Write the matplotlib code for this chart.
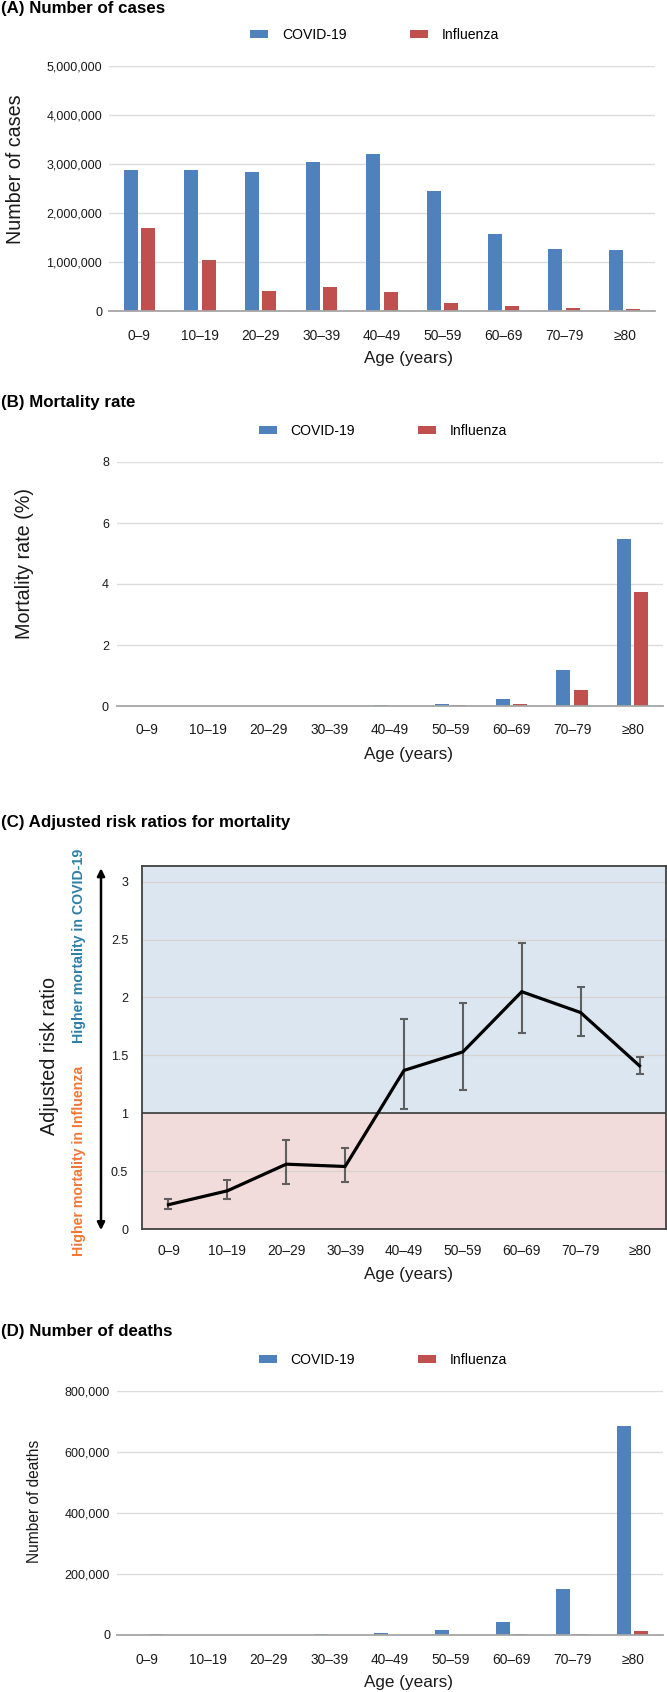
import matplotlib
matplotlib.use("Agg")
import matplotlib.pyplot as plt
from matplotlib.ticker import StrMethodFormatter
import numpy as np

plt.rcParams['font.family'] = ['Liberation Sans', 'DejaVu Sans']

ages = ['0–9', '10–19', '20–29', '30–39', '40–49', '50–59', '60–69', '70–79', '≥80']

cases_covid = [2870000, 2880000, 2840000, 3050000, 3200000, 2440000, 1570000, 1260000, 1250000]
cases_flu = [1700000, 1045000, 410000, 480000, 390000, 170000, 110000, 68000, 47000]

mort_covid = [0.003, 0.002, 0.005, 0.01, 0.02, 0.06, 0.24, 1.18, 5.48]
mort_flu = [0.003, 0.002, 0.004, 0.006, 0.008, 0.03, 0.07, 0.53, 3.75]

rr = [0.21, 0.33, 0.56, 0.54, 1.37, 1.53, 2.05, 1.87, 1.41]
rr_lo = [0.17, 0.26, 0.39, 0.41, 1.04, 1.20, 1.69, 1.67, 1.34]
rr_hi = [0.26, 0.42, 0.77, 0.70, 1.81, 1.95, 2.47, 2.09, 1.49]

deaths_covid = [200, 100, 500, 1000, 5600, 14400, 41600, 151000, 685000]
deaths_flu = [1800, 200, 300, 300, 400, 600, 800, 2500, 12000]

BLUE = '#4f81bd'
RED = '#c0504d'
GRID = '#dcdcdc'

W, H = 667, 1692
fig = plt.figure(figsize=(W / 100, H / 100), dpi=100)


def rect(l, r, t, b):
    return [l / W, 1 - b / H, (r - l) / W, (b - t) / H]


def fy(py):
    return 1 - py / H


x = np.arange(len(ages))


def bar_panel(pos, cv, fl, ylim, yticks, fmt, ylabel, ylab_xy, ylab_size,
              xlab_xy, xpad, ypad, title, title_y, leg_xy):
    ax = fig.add_axes(rect(*pos))
    b1 = ax.bar(x - 0.142, cv, width=0.228, color=BLUE, label='COVID-19', zorder=3)
    b2 = ax.bar(x + 0.142, fl, width=0.228, color=RED, label='Influenza', zorder=3)
    ax.set_xlim(-0.5, len(ages) - 0.5)
    ax.set_ylim(*ylim)
    ax.set_yticks(yticks)
    ax.yaxis.set_major_formatter(StrMethodFormatter(fmt))
    ax.set_xticks(x)
    ax.set_xticklabels(ages)
    ax.grid(axis='y', color=GRID, lw=1.0, zorder=0)
    ax.set_axisbelow(True)
    for s in ['top', 'right', 'left']:
        ax.spines[s].set_visible(False)
    ax.spines['bottom'].set_color('#a6a6a6')
    ax.spines['bottom'].set_linewidth(1.3)
    ax.spines['bottom'].set_zorder(4)
    ax.tick_params(axis='x', length=0, pad=xpad, labelsize=9.9, labelcolor='#1a1a1a')
    ax.tick_params(axis='y', length=0, pad=ypad, labelsize=9.0, labelcolor='#1a1a1a')
    ax.set_ylabel(ylabel, fontsize=ylab_size, va='center', color='#1a1a1a')
    ax.yaxis.set_label_coords(*ylab_xy)
    ax.set_xlabel('Age (years)', fontsize=12.3, va='center', color='#1a1a1a')
    ax.xaxis.set_label_coords(*xlab_xy)
    fig.text(1 / W, fy(title_y), title, fontsize=12.2, fontweight='bold',
             ha='left', va='center')
    ax.legend(handles=[b1, b2], loc='center', ncol=2, frameon=False,
              bbox_to_anchor=(leg_xy[0] / W, fy(leg_xy[1])),
              bbox_transform=fig.transFigure, fontsize=10.1,
              handlelength=1.29, handleheight=0.4, handletextpad=0.98,
              columnspacing=4.5, borderpad=0, borderaxespad=0)
    return ax


# Panel A
bar_panel((109, 655, 66, 311), cases_covid, cases_flu, (0, 5000000),
          [0, 1000000, 2000000, 3000000, 4000000, 5000000], '{x:,.0f}',
          'Number of cases', (-0.172, 0.580), 14.2,
          (0.548, -0.192), 13.0, 5.0, '(A) Number of cases', 8, (374.5, 35))

# Panel B
bar_panel((117, 663, 462, 706), mort_covid, mort_flu, (0, 8),
          [0, 2, 4, 6, 8], '{x:.0f}',
          'Mortality rate (%)', (-0.1685, 0.584), 14.2,
          (0.533, -0.197), 12.3, 5.8, '(B) Mortality rate', 402, (383, 431))

# Panel D
bar_panel((117, 663, 1390.7, 1634.7), deaths_covid, deaths_flu, (0, 800000),
          [0, 200000, 400000, 600000, 800000], '{x:,.0f}',
          'Number of deaths', (-0.152, 0.546), 11.2,
          (0.533, -0.194), 13.4, 5.0, '(D) Number of deaths', 1331, (383, 1360))

# Panel C
axc = fig.add_axes(rect(142, 666, 866, 1229))
ytop = 3.136
axc.axhspan(1, ytop, color='#dce6f1', zorder=0, lw=0)
axc.axhspan(0, 1, color='#f2dcdb', zorder=0, lw=0)
axc.set_xlim(-0.45, len(ages) - 0.55)
axc.set_ylim(0, ytop)
axc.set_yticks([0, 0.5, 1, 1.5, 2, 2.5, 3])
axc.set_yticklabels(['0', '0.5', '1', '1.5', '2', '2.5', '3'])
axc.grid(axis='y', color='#d6d3d1', lw=0.9, zorder=1)
axc.axhline(1, color='#2b2b2b', lw=1.1, zorder=2)
rr_arr = np.array(rr)
yerr = np.vstack([rr_arr - np.array(rr_lo), np.array(rr_hi) - rr_arr])
axc.errorbar(x, rr, yerr=yerr, fmt='none', ecolor='#5f5f5f', elinewidth=1.5,
             capsize=3.0, capthick=1.5, zorder=3)
axc.plot(x, rr, color='black', lw=2.3, zorder=4, solid_joinstyle='miter')
axc.set_xticks(x)
axc.set_xticklabels(ages)
for s in axc.spines.values():
    s.set_color('#404040')
    s.set_linewidth(1.3)
    s.set_zorder(5)
axc.tick_params(axis='x', length=0, pad=10.8, labelsize=9.9, labelcolor='#1a1a1a')
axc.tick_params(axis='y', length=0, pad=10.0, labelsize=9.0, labelcolor='#1a1a1a')
axc.set_ylabel('Adjusted risk ratio', fontsize=14.2, va='center', color='#1a1a1a')
axc.yaxis.set_label_coords(-0.1756, 0.4766)
axc.set_xlabel('Age (years)', fontsize=12.3, va='center', color='#1a1a1a')
axc.xaxis.set_label_coords(0.508, -0.124)
fig.text(1 / W, fy(822), '(C) Adjusted risk ratios for mortality', fontsize=12.2,
         fontweight='bold', ha='left', va='center')

ytr = axc.get_yaxis_transform()
arrow_x = (101 - 142) / 524
axc.annotate('', xy=(arrow_x, 3.117), xytext=(arrow_x, -0.01), xycoords=ytr,
             textcoords=ytr, annotation_clip=False,
             arrowprops=dict(arrowstyle='<|-|>', color='black', lw=1.8,
                             mutation_scale=11, shrinkA=0, shrinkB=0))
text_x = (79 - 142) / 524
axc.text(text_x, (1229 - 946) / 115.77, 'Higher mortality in COVID-19', transform=ytr,
         rotation=90, ha='center', va='center', fontsize=10.2, fontweight='bold',
         color='#2f7fa6', clip_on=False)
axc.text(text_x, (1229 - 1161) / 115.77, 'Higher mortality in Influenza', transform=ytr,
         rotation=90, ha='center', va='center', fontsize=10.2, fontweight='bold',
         color='#f37735', clip_on=False)

fig.savefig('out.png', dpi=100)
